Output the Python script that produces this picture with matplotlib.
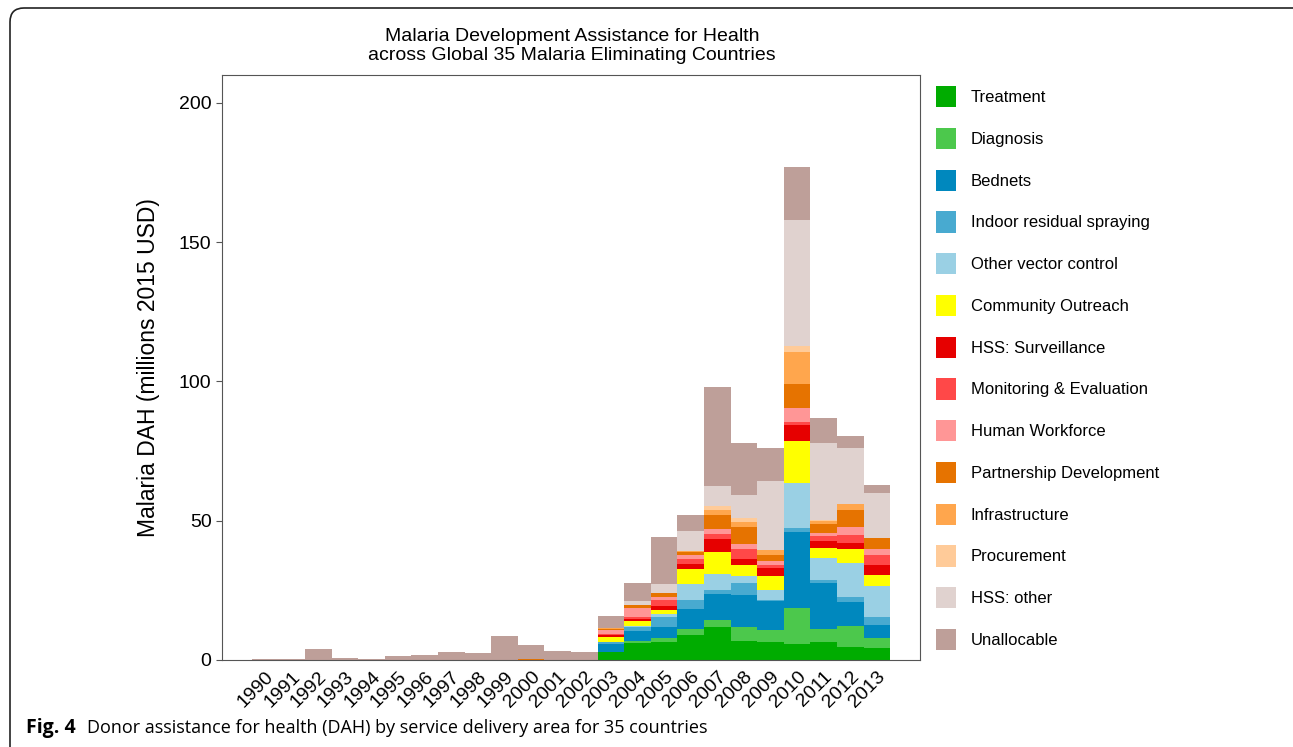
import numpy as np
import matplotlib
matplotlib.use('Agg')
import matplotlib.pyplot as plt
from matplotlib.patches import Patch, FancyBboxPatch

plt.rcParams['font.family'] = ['Liberation Sans', 'DejaVu Sans']

years = [str(y) for y in range(1990, 2014)]

categories = ['Treatment', 'Diagnosis', 'Bednets', 'Indoor residual spraying',
              'Other vector control', 'Community Outreach', 'HSS: Surveillance',
              'Monitoring & Evaluation', 'Human Workforce', 'Partnership Development',
              'Infrastructure', 'Procurement', 'HSS: other', 'Unallocable']

colors = ['#00AC00', '#4CC84C', '#0088BE', '#48AAD0', '#9AD0E4', '#FFFF00',
          '#E60000', '#FF4848', '#FF9696', '#E67300', '#FFA64D', '#FFCB99',
          '#E0D2CF', '#BE9F99']

# values per category, years 1990-2013 (millions 2015 USD)
pre = [0] * 13
treatment   = pre + [2.9, 6.0, 6.3, 9.1, 11.7, 6.9, 6.6, 5.7, 6.3, 4.5, 4.2]
diagnosis   = pre + [0.0, 0.7, 1.7, 2.2, 2.6, 5.0, 4.2, 12.8, 4.7, 7.7, 3.6]
bednets     = pre + [2.9, 3.8, 3.9, 6.9, 9.3, 11.3, 10.5, 27.5, 16.5, 8.6, 4.8]
irs         = pre + [0.5, 1.4, 3.6, 3.4, 1.4, 4.3, 0.3, 1.4, 1.2, 1.9, 2.8]
other_vc    = pre + [0.2, 0.3, 1.0, 5.7, 5.7, 2.6, 3.6, 16.2, 7.8, 12.0, 11.3]
outreach    = pre + [1.9, 1.7, 1.4, 5.3, 8.0, 3.9, 4.8, 15.1, 3.6, 5.0, 3.9]
surveil     = pre + [0.5, 0.7, 1.4, 1.9, 4.8, 2.4, 3.0, 5.6, 2.6, 2.4, 3.6]
monitoring  = pre + [0.5, 0.7, 2.2, 1.9, 1.6, 3.6, 1.0, 1.2, 1.8, 2.8, 3.6]
workforce   = pre + [1.2, 3.3, 1.0, 1.4, 2.0, 1.8, 1.4, 4.8, 1.0, 3.0, 2.0]
partnership = [0] * 10 + [0.2, 0, 0] + [0.6, 1.0, 1.4, 1.0, 5.1, 6.0, 2.4, 8.7, 3.2, 6.0, 3.9]
infra       = pre + [0.2, 0.2, 0.3, 0.2, 1.7, 1.8, 1.6, 11.6, 1.3, 2.0, 0.2]
procurement = pre + [0.1, 0.1, 0.0, 0.1, 1.4, 1.4, 0.2, 2.2, 0.3, 0.2, 0.0]
hss_other   = pre + [0.1, 1.4, 3.1, 7.2, 7.3, 8.1, 24.8, 45.1, 27.5, 20.1, 15.9]
unallocable = [0.2, 0.5, 3.8, 0.7, 0.2, 1.4, 1.8, 2.9, 2.5, 8.6, 5.3, 3.1, 2.8,
               4.1, 6.2, 17.0, 5.7, 35.3, 18.9, 11.7, 18.9, 9.2, 4.2, 2.9]

series = [treatment, diagnosis, bednets, irs, other_vc, outreach, surveil,
          monitoring, workforce, partnership, infra, procurement, hss_other, unallocable]

fig = plt.figure(figsize=(12.93, 7.47), dpi=100)
ax = fig.add_axes([222 / 1293, 87 / 747, 698 / 1293, 585 / 747])

x = np.arange(len(years))
bottom = np.zeros(len(years))
for vals, col in zip(series, colors):
    ax.bar(x, vals, width=1.0, bottom=bottom, color=col, edgecolor='none')
    bottom += np.array(vals)

ax.set_xlim(-1.62, len(years) - 1 + 1.62)
ax.set_ylim(0, 210)
ax.set_yticks([0, 50, 100, 150, 200])
ax.tick_params(axis='y', labelsize=14, length=4, color='#555555')
ax.set_xticks(x)
ax.set_xticklabels(years, rotation=45, ha='right', rotation_mode='anchor', fontsize=14)
ax.tick_params(axis='x', length=0, pad=6)
for s in ax.spines.values():
    s.set_color('#555555')
    s.set_linewidth(0.8)
ax.set_ylabel('Malaria DAH (millions 2015 USD)', fontsize=16.5, labelpad=14)

fig.text(572 / 1293, 1 - 46 / 747,
         'Malaria Development Assistance for Health\nacross Global 35 Malaria Eliminating Countries',
         ha='center', va='center', fontsize=14, linespacing=1.15)

handles = [Patch(facecolor=c, edgecolor='none') for c in colors]
fig.legend(handles, categories, loc='upper left', bbox_to_anchor=(936 / 1293, 1 - 86 / 747),
           frameon=False, fontsize=12, handlelength=1.2, handleheight=1.6,
           labelspacing=1.22, handletextpad=0.9, borderaxespad=0, borderpad=0)

fig.text(26 / 1293, 1 - 728 / 747, 'Fig. 4', fontsize=14, fontweight='bold',
         family=['Open Sans', 'DejaVu Sans'], va='center', ha='left')
fig.text(87 / 1293, 1 - 728 / 747,
         'Donor assistance for health (DAH) by service delivery area for 35 countries',
         fontsize=13, family=['Open Sans', 'DejaVu Sans'], va='center', ha='left')

frame = FancyBboxPatch((10, -40), 1320, 739 + 40, boxstyle='round,pad=0,rounding_size=14',
                       transform=None, facecolor='none', edgecolor='#222222', linewidth=1.2,
                       clip_on=False)
fig.patches.append(frame)

fig.savefig('out.png', dpi=100)
